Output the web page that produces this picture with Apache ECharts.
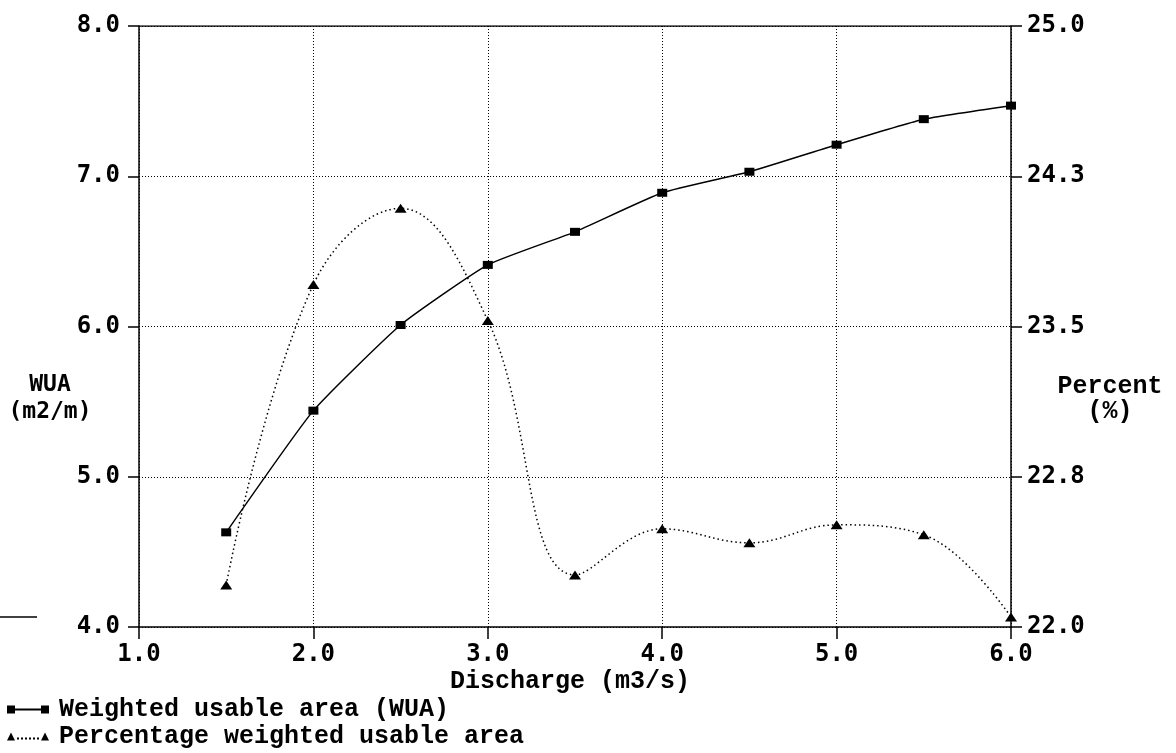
<!DOCTYPE html>
<html>
<head>
<meta charset="utf-8">
<title>Weighted usable area vs discharge</title>
<script src="https://cdn.jsdelivr.net/npm/echarts@6/dist/echarts.min.js"></script>
<style>
  html, body { margin: 0; padding: 0; background: #fff; }
  #chart { width: 1176px; height: 753px; }
</style>
</head>
<body>
<div id="chart"></div>
<script>
// Discharge (m3/s) at each simulated flow
const discharge = [1.5, 2.0, 2.5, 3.0, 3.5, 4.0, 4.5, 5.0, 5.5, 6.0];
// Weighted usable area (m2/m)
const wua = [4.63, 5.44, 6.01, 6.41, 6.63, 6.89, 7.03, 7.21, 7.38, 7.47];
// Percentage weighted usable area (%)
const pctWua = [22.21, 23.71, 24.09, 23.53, 22.26, 22.49, 22.42, 22.51, 22.46, 22.05];

const seriesNames = ['Weighted usable area (WUA)', 'Percentage weighted usable area'];
const xAxisTitle = 'Discharge (m3/s)';
const leftAxisTitle = 'WUA\n(m2/m)';
const rightAxisTitle = 'Percent\n(%)';

const tickFont = 'DejaVu Sans Mono';
const textFont = 'Liberation Mono';

const pairs = (xs, ys) => xs.map((x, i) => [x, ys[i]]);
const fmt1 = v => Number(v).toFixed(1);

const dottedGrid = { show: true, lineStyle: { color: '#000', width: 1, type: [1, 2] } };
const solidAxis = { show: true, onZero: false, lineStyle: { color: '#000', width: 1.5 } };
const tickLabel = { formatter: fmt1, color: '#000', fontFamily: tickFont, fontWeight: 'bold', fontSize: 24 };

// legend icons: marker – line – marker
const squareIcon = 'path://M0,1h8v8h-8z M8,4h26v2h-26z M34,1h8v8h-8z';
const triangleIcon = 'path://M0,9L4,1L8,9z M10,6h2v2h-2z M14,6h2v2h-2z M18,6h2v2h-2z M22,6h2v2h-2z M26,6h2v2h-2z M30,6h2v2h-2z M34,9L38,1L42,9z';

const legendRow = (name, icon, top) => ({
  orient: 'vertical',
  left: 7,
  top: top,
  padding: 0,
  itemWidth: 42,
  itemHeight: 9,
  selectedMode: false,
  textStyle: { fontFamily: textFont, fontSize: 25, fontWeight: 'bold', color: '#000', padding: [0, 0, 0, 5] },
  data: [{ name: name, icon: icon, itemStyle: { color: '#000' } }]
});

const chart = echarts.init(document.getElementById('chart'), null, { renderer: 'canvas' });

chart.setOption({
  backgroundColor: '#fff',
  animation: false,
  grid: { left: 139, right: 165, top: 26, bottom: 126, show: false },
  legend: [
    legendRow(seriesNames[0], squareIcon, 697),
    legendRow(seriesNames[1], triangleIcon, 724)
  ],
  xAxis: {
    type: 'value',
    min: 1,
    max: 6,
    interval: 1,
    axisLine: solidAxis,
    axisTick: { show: true, length: 12, lineStyle: { color: '#000', width: 1.5 } },
    splitLine: dottedGrid,
    axisLabel: Object.assign({ margin: 16 }, tickLabel)
  },
  yAxis: [
    {
      type: 'value',
      position: 'left',
      min: 4,
      max: 8,
      interval: 1,
      axisLine: solidAxis,
      axisTick: { show: true, length: 11, lineStyle: { color: '#000', width: 1.5 } },
      splitLine: dottedGrid,
      axisLabel: Object.assign({ margin: 19 }, tickLabel)
    },
    {
      type: 'value',
      position: 'right',
      min: 22,
      max: 25,
      interval: 0.75,
      axisLine: solidAxis,
      axisTick: { show: true, length: 11, lineStyle: { color: '#000', width: 1.5 } },
      splitLine: { show: false },
      axisLabel: Object.assign({ margin: 16 }, tickLabel)
    }
  ],
  series: [
    {
      name: seriesNames[0],
      type: 'line',
      yAxisIndex: 0,
      data: pairs(discharge, wua),
      smooth: 0.15,
      symbol: 'rect',
      symbolSize: [10, 8],
      itemStyle: { color: '#000' },
      lineStyle: { color: '#000', width: 1.5 },
      z: 3
    },
    {
      name: seriesNames[1],
      type: 'line',
      yAxisIndex: 1,
      data: pairs(discharge, pctWua),
      smooth: 0.4,
      symbol: 'triangle',
      symbolSize: [12, 9],
      itemStyle: { color: '#000' },
      lineStyle: { color: '#000', width: 1.5, type: [1.5, 3] },
      z: 3
    },
    // top border of the plotting frame
    {
      type: 'line',
      yAxisIndex: 0,
      data: [[1, 8], [6, 8]],
      symbol: 'none',
      silent: true,
      lineStyle: { color: '#000', width: 1.5 },
      z: 2
    }
  ],
  graphic: [
    {
      type: 'text',
      x: 570, y: 669,
      style: { text: xAxisTitle, font: 'bold 25px "Liberation Mono"', fill: '#000', align: 'center' }
    },
    {
      type: 'text',
      x: 50, y: 372,
      style: { text: leftAxisTitle, font: 'bold 23px "DejaVu Sans Mono"', fill: '#000', align: 'center', lineHeight: 27 }
    },
    {
      type: 'text',
      x: 1110, y: 374,
      style: { text: rightAxisTitle, font: 'bold 25px "Liberation Mono"', fill: '#000', align: 'center', lineHeight: 25 }
    },
    {
      type: 'line',
      shape: { x1: 0, y1: 617, x2: 37, y2: 617 },
      style: { stroke: '#000', lineWidth: 1.5 }
    }
  ]
});
</script>
</body>
</html>
